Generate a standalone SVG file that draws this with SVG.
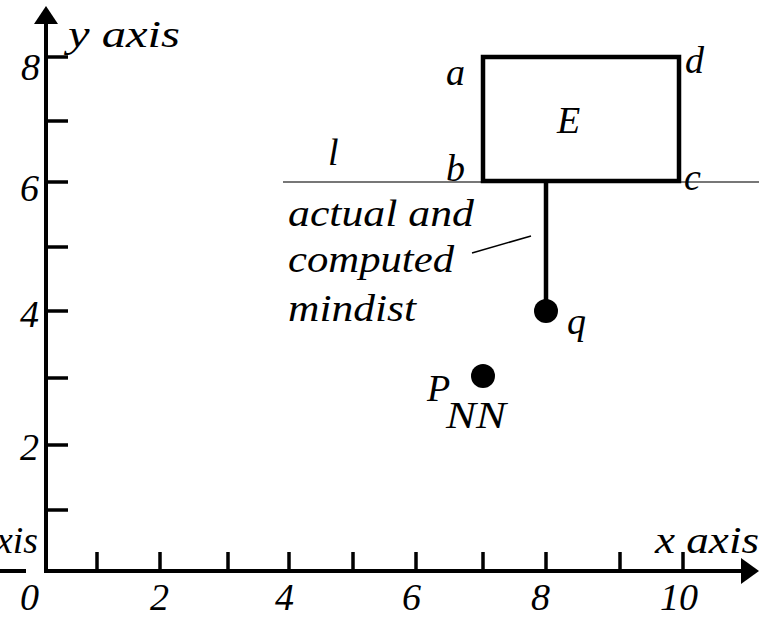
<svg xmlns="http://www.w3.org/2000/svg" width="759" height="618" viewBox="0 0 759 618">
<rect width="759" height="618" fill="#fff"/>
<g id="axes">
<g stroke="#000" stroke-width="4" fill="none">
<line x1="46" y1="573" x2="46" y2="20"/>
<line x1="44" y1="571" x2="745" y2="571"/>
<line x1="0" y1="571" x2="26" y2="571"/>
</g>
<polygon points="46,6 34,24 58,24" fill="#000"/>
<polygon points="759,571 741,558 741,584" fill="#000"/>
<g stroke="#000" stroke-width="3.5">
<line x1="46" y1="57" x2="68" y2="57"/>
<line x1="46" y1="121" x2="68" y2="121"/>
<line x1="46" y1="182" x2="68" y2="182"/>
<line x1="46" y1="247" x2="68" y2="247"/>
<line x1="46" y1="311" x2="68" y2="311"/>
<line x1="46" y1="378" x2="68" y2="378"/>
<line x1="46" y1="445" x2="68" y2="445"/>
<line x1="46" y1="510" x2="68" y2="510"/>
<line x1="97" y1="552" x2="97" y2="573"/>
<line x1="160" y1="552" x2="160" y2="573"/>
<line x1="228" y1="552" x2="228" y2="573"/>
<line x1="289" y1="552" x2="289" y2="573"/>
<line x1="353" y1="552" x2="353" y2="573"/>
<line x1="416" y1="552" x2="416" y2="573"/>
<line x1="483" y1="552" x2="483" y2="573"/>
<line x1="546" y1="552" x2="546" y2="573"/>
<line x1="620" y1="552" x2="620" y2="573"/>
<line x1="683" y1="552" x2="683" y2="573"/>
</g>
<text x="68" y="47" font-family="Liberation Serif" font-style="italic" font-size="38" textLength="112" lengthAdjust="spacingAndGlyphs">y axis</text>
<text x="21" y="80" font-family="Liberation Serif" font-style="italic" font-size="38">8</text>
<text x="20" y="201" font-family="Liberation Serif" font-style="italic" font-size="38">6</text>
<text x="20" y="327" font-family="Liberation Serif" font-style="italic" font-size="38">4</text>
<text x="20" y="460" font-family="Liberation Serif" font-style="italic" font-size="38">2</text>
<text x="-4" y="553" font-family="Liberation Serif" font-style="italic" font-size="38" textLength="42" lengthAdjust="spacingAndGlyphs">xis</text>
<text x="655" y="553" font-family="Liberation Serif" font-style="italic" font-size="38" textLength="104" lengthAdjust="spacingAndGlyphs">x axis</text>
<text x="20" y="610" font-family="Liberation Serif" font-style="italic" font-size="38">0</text>
<text x="150" y="610" font-family="Liberation Serif" font-style="italic" font-size="38">2</text>
<text x="275" y="610" font-family="Liberation Serif" font-style="italic" font-size="38">4</text>
<text x="402" y="610" font-family="Liberation Serif" font-style="italic" font-size="38">6</text>
<text x="531" y="610" font-family="Liberation Serif" font-style="italic" font-size="38">8</text>
<text x="660" y="610" font-family="Liberation Serif" font-style="italic" font-size="38">10</text>
</g>
<g id="line-l">
<line x1="283" y1="182" x2="759" y2="182" stroke="#777" stroke-width="1.8"/>
<text x="328" y="165" font-family="Liberation Serif" font-style="italic" font-size="38">l</text>
</g>
<g id="rect-E">
<rect x="483" y="57" width="196" height="124" stroke="#000" stroke-width="4.5" fill="none"/>
<text x="557" y="133" font-family="Liberation Serif" font-style="italic" font-size="38">E</text>
<text x="446" y="85" font-family="Liberation Serif" font-style="italic" font-size="38">a</text>
<text x="446" y="181" font-family="Liberation Serif" font-style="italic" font-size="38">b</text>
<text x="685" y="73" font-family="Liberation Serif" font-style="italic" font-size="38">d</text>
<text x="684" y="190" font-family="Liberation Serif" font-style="italic" font-size="38">c</text>
</g>
<g id="connectors">
<line x1="546" y1="181" x2="546" y2="310" stroke="#000" stroke-width="4.5"/>
<line x1="472" y1="253" x2="531" y2="236" stroke="#000" stroke-width="1.5"/>
</g>
<g id="label-mindist">
<text x="288" y="226" font-family="Liberation Serif" font-style="italic" font-size="38" textLength="186" lengthAdjust="spacingAndGlyphs">actual and</text>
<text x="288" y="272" font-family="Liberation Serif" font-style="italic" font-size="38" textLength="166" lengthAdjust="spacingAndGlyphs">computed</text>
<text x="288" y="321" font-family="Liberation Serif" font-style="italic" font-size="38" textLength="128" lengthAdjust="spacingAndGlyphs">mindist</text>
</g>
<g id="q">
<circle cx="546" cy="311" r="12" fill="#000"/>
<text x="567" y="334" font-family="Liberation Serif" font-style="italic" font-size="38">q</text>
</g>
<g id="pnn">
<circle cx="483" cy="376" r="12" fill="#000"/>
<text x="427" y="401" font-family="Liberation Serif" font-style="italic" font-size="38">P</text>
<text x="446" y="428" font-family="Liberation Serif" font-style="italic" font-size="38" textLength="60" lengthAdjust="spacingAndGlyphs">NN</text>
</g>
</svg>
